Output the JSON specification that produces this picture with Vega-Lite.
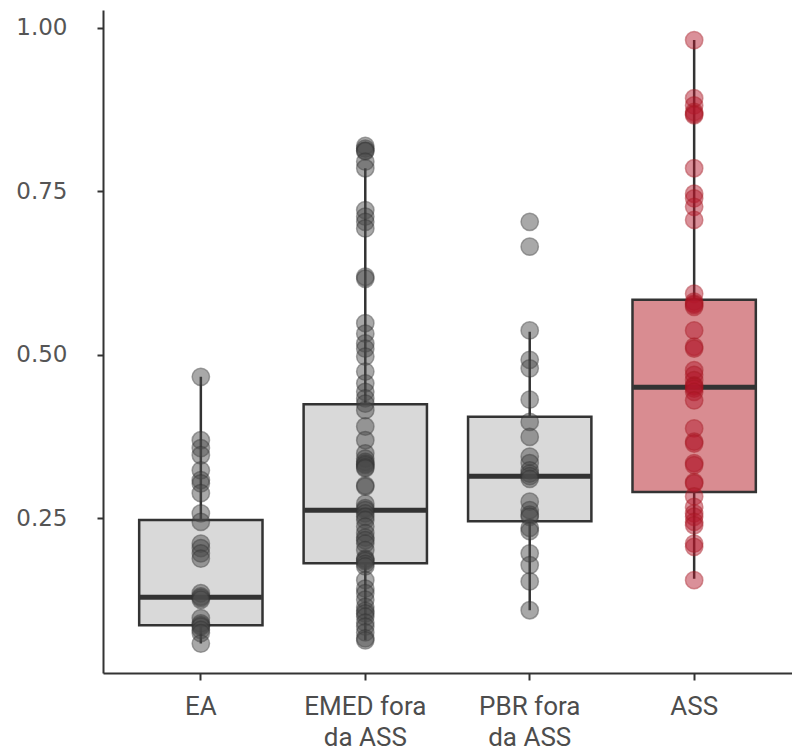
{
  "$schema": "https://vega.github.io/schema/vega-lite/v6.json",
  "width": 689,
  "height": 663,
  "autosize": {"type": "none"},
  "padding": {"left": 103, "top": 10, "right": 0, "bottom": 81},
  "background": "white",
  "config": {
    "view": {"stroke": null},
    "axis": {
      "grid": false,
      "domainColor": "#333333",
      "domainWidth": 2,
      "tickColor": "#333333",
      "tickWidth": 2,
      "tickSize": 7,
      "labelColor": "#4d4d4d",
      "title": null
    }
  },
  "datasets": {
    "boxes": [
      {"group": "EA", "lower": 0.058, "q1": 0.086, "median": 0.129, "q3": 0.247, "upper": 0.466},
      {"group": "EMED fora da ASS", "lower": 0.063, "q1": 0.181, "median": 0.262, "q3": 0.424, "upper": 0.785},
      {"group": "PBR fora da ASS", "lower": 0.109, "q1": 0.245, "median": 0.314, "q3": 0.405, "upper": 0.535},
      {"group": "ASS", "lower": 0.157, "q1": 0.290, "median": 0.450, "q3": 0.584, "upper": 0.981}
    ],
    "points": [
      {"group": "EA", "value": 0.466}, {"group": "EA", "value": 0.369}, {"group": "EA", "value": 0.357},
      {"group": "EA", "value": 0.346}, {"group": "EA", "value": 0.323}, {"group": "EA", "value": 0.308},
      {"group": "EA", "value": 0.303}, {"group": "EA", "value": 0.288}, {"group": "EA", "value": 0.257},
      {"group": "EA", "value": 0.244}, {"group": "EA", "value": 0.211}, {"group": "EA", "value": 0.204},
      {"group": "EA", "value": 0.196}, {"group": "EA", "value": 0.188}, {"group": "EA", "value": 0.135},
      {"group": "EA", "value": 0.130}, {"group": "EA", "value": 0.128}, {"group": "EA", "value": 0.125},
      {"group": "EA", "value": 0.097}, {"group": "EA", "value": 0.089}, {"group": "EA", "value": 0.086},
      {"group": "EA", "value": 0.084}, {"group": "EA", "value": 0.079}, {"group": "EA", "value": 0.074},
      {"group": "EA", "value": 0.058},

      {"group": "EMED fora da ASS", "value": 0.819}, {"group": "EMED fora da ASS", "value": 0.815},
      {"group": "EMED fora da ASS", "value": 0.812}, {"group": "EMED fora da ASS", "value": 0.811},
      {"group": "EMED fora da ASS", "value": 0.795}, {"group": "EMED fora da ASS", "value": 0.785},
      {"group": "EMED fora da ASS", "value": 0.721}, {"group": "EMED fora da ASS", "value": 0.711},
      {"group": "EMED fora da ASS", "value": 0.703}, {"group": "EMED fora da ASS", "value": 0.693},
      {"group": "EMED fora da ASS", "value": 0.619}, {"group": "EMED fora da ASS", "value": 0.616},
      {"group": "EMED fora da ASS", "value": 0.548}, {"group": "EMED fora da ASS", "value": 0.532},
      {"group": "EMED fora da ASS", "value": 0.517}, {"group": "EMED fora da ASS", "value": 0.509},
      {"group": "EMED fora da ASS", "value": 0.497}, {"group": "EMED fora da ASS", "value": 0.474},
      {"group": "EMED fora da ASS", "value": 0.456}, {"group": "EMED fora da ASS", "value": 0.443},
      {"group": "EMED fora da ASS", "value": 0.433}, {"group": "EMED fora da ASS", "value": 0.425},
      {"group": "EMED fora da ASS", "value": 0.415}, {"group": "EMED fora da ASS", "value": 0.390},
      {"group": "EMED fora da ASS", "value": 0.369}, {"group": "EMED fora da ASS", "value": 0.349},
      {"group": "EMED fora da ASS", "value": 0.341}, {"group": "EMED fora da ASS", "value": 0.336},
      {"group": "EMED fora da ASS", "value": 0.333}, {"group": "EMED fora da ASS", "value": 0.331},
      {"group": "EMED fora da ASS", "value": 0.328}, {"group": "EMED fora da ASS", "value": 0.326},
      {"group": "EMED fora da ASS", "value": 0.300}, {"group": "EMED fora da ASS", "value": 0.298},
      {"group": "EMED fora da ASS", "value": 0.272}, {"group": "EMED fora da ASS", "value": 0.265},
      {"group": "EMED fora da ASS", "value": 0.262}, {"group": "EMED fora da ASS", "value": 0.257},
      {"group": "EMED fora da ASS", "value": 0.252}, {"group": "EMED fora da ASS", "value": 0.247},
      {"group": "EMED fora da ASS", "value": 0.237}, {"group": "EMED fora da ASS", "value": 0.227},
      {"group": "EMED fora da ASS", "value": 0.220}, {"group": "EMED fora da ASS", "value": 0.216},
      {"group": "EMED fora da ASS", "value": 0.211}, {"group": "EMED fora da ASS", "value": 0.201},
      {"group": "EMED fora da ASS", "value": 0.188}, {"group": "EMED fora da ASS", "value": 0.186},
      {"group": "EMED fora da ASS", "value": 0.184}, {"group": "EMED fora da ASS", "value": 0.180},
      {"group": "EMED fora da ASS", "value": 0.176}, {"group": "EMED fora da ASS", "value": 0.155},
      {"group": "EMED fora da ASS", "value": 0.142}, {"group": "EMED fora da ASS", "value": 0.135},
      {"group": "EMED fora da ASS", "value": 0.125}, {"group": "EMED fora da ASS", "value": 0.114},
      {"group": "EMED fora da ASS", "value": 0.108}, {"group": "EMED fora da ASS", "value": 0.104},
      {"group": "EMED fora da ASS", "value": 0.099}, {"group": "EMED fora da ASS", "value": 0.090},
      {"group": "EMED fora da ASS", "value": 0.084}, {"group": "EMED fora da ASS", "value": 0.075},
      {"group": "EMED fora da ASS", "value": 0.066}, {"group": "EMED fora da ASS", "value": 0.063},

      {"group": "PBR fora da ASS", "value": 0.703}, {"group": "PBR fora da ASS", "value": 0.665},
      {"group": "PBR fora da ASS", "value": 0.537}, {"group": "PBR fora da ASS", "value": 0.492},
      {"group": "PBR fora da ASS", "value": 0.479}, {"group": "PBR fora da ASS", "value": 0.431},
      {"group": "PBR fora da ASS", "value": 0.397}, {"group": "PBR fora da ASS", "value": 0.374},
      {"group": "PBR fora da ASS", "value": 0.344}, {"group": "PBR fora da ASS", "value": 0.334},
      {"group": "PBR fora da ASS", "value": 0.323}, {"group": "PBR fora da ASS", "value": 0.318},
      {"group": "PBR fora da ASS", "value": 0.314}, {"group": "PBR fora da ASS", "value": 0.310},
      {"group": "PBR fora da ASS", "value": 0.275}, {"group": "PBR fora da ASS", "value": 0.262},
      {"group": "PBR fora da ASS", "value": 0.255}, {"group": "PBR fora da ASS", "value": 0.252},
      {"group": "PBR fora da ASS", "value": 0.235}, {"group": "PBR fora da ASS", "value": 0.230},
      {"group": "PBR fora da ASS", "value": 0.196}, {"group": "PBR fora da ASS", "value": 0.178},
      {"group": "PBR fora da ASS", "value": 0.153}, {"group": "PBR fora da ASS", "value": 0.109},

      {"group": "ASS", "value": 0.981}, {"group": "ASS", "value": 0.892}, {"group": "ASS", "value": 0.881},
      {"group": "ASS", "value": 0.871}, {"group": "ASS", "value": 0.868}, {"group": "ASS", "value": 0.866},
      {"group": "ASS", "value": 0.785}, {"group": "ASS", "value": 0.746}, {"group": "ASS", "value": 0.739},
      {"group": "ASS", "value": 0.726}, {"group": "ASS", "value": 0.706}, {"group": "ASS", "value": 0.593},
      {"group": "ASS", "value": 0.581}, {"group": "ASS", "value": 0.578}, {"group": "ASS", "value": 0.576},
      {"group": "ASS", "value": 0.573}, {"group": "ASS", "value": 0.537}, {"group": "ASS", "value": 0.512},
      {"group": "ASS", "value": 0.509}, {"group": "ASS", "value": 0.476}, {"group": "ASS", "value": 0.469},
      {"group": "ASS", "value": 0.461}, {"group": "ASS", "value": 0.453}, {"group": "ASS", "value": 0.451},
      {"group": "ASS", "value": 0.448}, {"group": "ASS", "value": 0.443}, {"group": "ASS", "value": 0.430},
      {"group": "ASS", "value": 0.387}, {"group": "ASS", "value": 0.367}, {"group": "ASS", "value": 0.364},
      {"group": "ASS", "value": 0.334}, {"group": "ASS", "value": 0.331}, {"group": "ASS", "value": 0.305},
      {"group": "ASS", "value": 0.303}, {"group": "ASS", "value": 0.283}, {"group": "ASS", "value": 0.267},
      {"group": "ASS", "value": 0.257}, {"group": "ASS", "value": 0.252}, {"group": "ASS", "value": 0.244},
      {"group": "ASS", "value": 0.239}, {"group": "ASS", "value": 0.211}, {"group": "ASS", "value": 0.206},
      {"group": "ASS", "value": 0.155}
    ]
  },
  "encoding": {
    "x": {
      "field": "group",
      "type": "nominal",
      "sort": ["EA", "EMED fora da ASS", "PBR fora da ASS", "ASS"],
      "scale": {
        "domain": ["EA", "EMED fora da ASS", "PBR fora da ASS", "ASS"],
        "paddingInner": 0.25,
        "paddingOuter": 0.22
      },
      "axis": {
        "labelAngle": 0,
        "labelFont": "Liberation Sans Narrow, Roboto, sans-serif",
        "labelFontSize": 26,
        "labelLineHeight": 31,
        "labelPadding": 13,
        "labelExpr": "datum.label == 'EMED fora da ASS' ? ['EMED fora', 'da ASS'] : datum.label == 'PBR fora da ASS' ? ['PBR fora', 'da ASS'] : datum.label"
      }
    }
  },
  "layer": [
    {
      "data": {"name": "boxes"},
      "mark": {"type": "rule", "color": "#333333", "strokeWidth": 2.5},
      "encoding": {
        "y": {
          "field": "lower",
          "type": "quantitative",
          "scale": {"domain": [0.013, 1.027], "nice": false, "zero": false},
          "axis": {
            "values": [0.25, 0.5, 0.75, 1.0],
            "format": ".2f",
            "labelFont": "DejaVu Sans",
            "labelFontSize": 23,
            "labelColor": "#555555",
            "labelPadding": 30,
            "tickSize": 6
          }
        },
        "y2": {"field": "upper"}
      }
    },
    {
      "data": {"name": "boxes"},
      "mark": {"type": "bar", "stroke": "#333333", "strokeWidth": 2.5},
      "encoding": {
        "y": {"field": "q1", "type": "quantitative"},
        "y2": {"field": "q3"},
        "fill": {
          "condition": {"test": "datum.group == 'ASS'", "value": "#d98c91"},
          "value": "#d9d9d9"
        }
      }
    },
    {
      "data": {"name": "boxes"},
      "mark": {"type": "tick", "color": "#333333", "thickness": 5, "size": 122, "opacity": 1},
      "encoding": {
        "y": {"field": "median", "type": "quantitative"}
      }
    },
    {
      "data": {"name": "points"},
      "mark": {"type": "circle", "size": 300, "strokeWidth": 1.5},
      "encoding": {
        "y": {"field": "value", "type": "quantitative"},
        "fill": {
          "condition": {"test": "datum.group == 'ASS'", "value": "#b2182b"},
          "value": "#4a4a4a"
        },
        "stroke": {
          "condition": {"test": "datum.group == 'ASS'", "value": "#a5161f"},
          "value": "#333333"
        },
        "fillOpacity": {"value": 0.68},
        "strokeOpacity": {"value": 0.65}
      }
    }
  ]
}
